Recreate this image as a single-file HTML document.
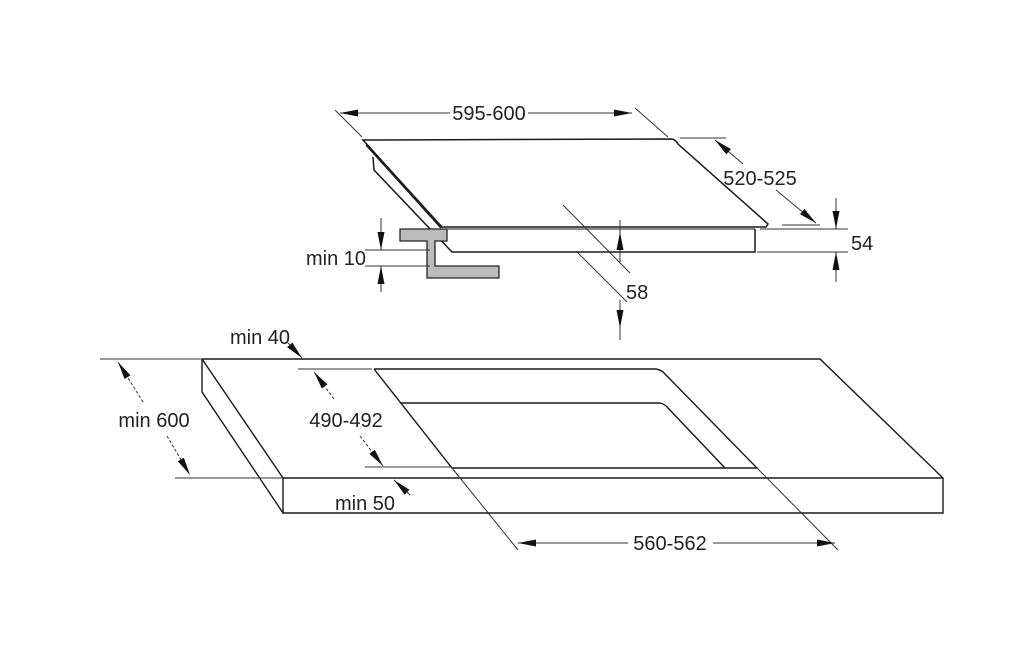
<!DOCTYPE html>
<html><head><meta charset="utf-8"><style>
html,body{margin:0;padding:0;background:#fff;}
svg{display:block;}
text{font-family:"Liberation Sans Narrow","Liberation Sans",sans-serif;font-size:20px;fill:#222;}
</style></head><body>
<svg width="1024" height="660" viewBox="0 0 1024 660" xmlns="http://www.w3.org/2000/svg">
<defs>
<marker id="a" viewBox="0 0 18 7" refX="18" refY="3.5" markerWidth="18" markerHeight="7" markerUnits="userSpaceOnUse" orient="auto">
<path d="M0,0 L18,3.5 L0,7 Z" fill="#111"/>
</marker>
</defs>
<g fill="none" stroke="#1a1a1a" stroke-width="1.5">
<path d="M363,140 L672,139 Q676,140 678,144 L768,224 L766,227 L442,227 Z" fill="#fff"/>
<path d="M366,145 L441,228"/>
<path d="M373,157 L374,170 L452,252 L755,252 L755,229"/>
<path d="M447,229 L755,229" stroke-width="1.1"/>
</g>
<path d="M400,229 L447,229 L447,241 L435,241 L435,266 L499,266 L499,278 L427,278 L427,241 L400,241 Z" fill="#bbb" stroke="#222" stroke-width="1.3"/>
<g fill="none" stroke="#333" stroke-width="1">
<line x1="335" y1="110" x2="362" y2="137"/>
<line x1="635" y1="108" x2="668" y2="137"/>
<line x1="450" y1="113" x2="340" y2="113" marker-end="url(#a)"/>
<line x1="528" y1="113" x2="632" y2="113" marker-end="url(#a)"/>
<line x1="680" y1="138" x2="726" y2="138"/>
<line x1="782" y1="225" x2="820" y2="225"/>
<line x1="743" y1="164" x2="715" y2="140" marker-end="url(#a)"/>
<line x1="776" y1="190" x2="816" y2="223" marker-end="url(#a)"/>
<line x1="760" y1="229" x2="848" y2="229"/>
<line x1="757" y1="252" x2="848" y2="252"/>
<line x1="836" y1="198" x2="836" y2="229" marker-end="url(#a)"/>
<line x1="836" y1="282" x2="836" y2="252" marker-end="url(#a)"/>
<line x1="365" y1="250" x2="430" y2="250"/>
<line x1="365" y1="266" x2="430" y2="266"/>
<line x1="381" y1="218" x2="381" y2="250" marker-end="url(#a)"/>
<line x1="381" y1="292" x2="381" y2="266" marker-end="url(#a)"/>
<line x1="563" y1="205" x2="630" y2="273"/>
<line x1="577" y1="252" x2="627" y2="302"/>
<line x1="620" y1="220" x2="620" y2="262"/>
<line x1="620" y1="262" x2="620" y2="232" marker-end="url(#a)"/>
<line x1="620" y1="300" x2="620" y2="340"/>
<line x1="620" y1="300" x2="620" y2="328" marker-end="url(#a)"/>
</g>
<g fill="none" stroke="#1a1a1a" stroke-width="1.4">
<path d="M202,359 L820,359 L943,478 L943,513 L283,513 L283,478 L943,478"/>
<path d="M202,359 L283,478 M202,359 L202,392 L283,513"/>
<path d="M374,369 L656,369 Q662,370 665,374 L757,468 L452,468 L374,369"/>
<path d="M401,403 L660,403 Q665,404 668,408 L725,468"/>
</g>
<g fill="none" stroke="#333" stroke-width="1">
<line x1="100" y1="359" x2="202" y2="359"/>
<line x1="175" y1="478" x2="283" y2="478"/>
<line x1="143" y1="402" x2="118" y2="362" stroke-dasharray="3,2" marker-end="url(#a)"/>
<line x1="167" y1="436" x2="190" y2="475" stroke-dasharray="3,2" marker-end="url(#a)"/>
<line x1="298" y1="369" x2="372" y2="369"/>
<line x1="365" y1="467" x2="452" y2="467"/>
<line x1="334" y1="399" x2="314" y2="372" stroke-dasharray="3,2" marker-end="url(#a)"/>
<line x1="360" y1="436" x2="383" y2="466" stroke-dasharray="3,2" marker-end="url(#a)"/>
<line x1="288" y1="343" x2="302" y2="358" marker-end="url(#a)"/>
<line x1="410" y1="495" x2="394" y2="480" marker-end="url(#a)"/>
<line x1="452" y1="468" x2="518" y2="550"/>
<line x1="757" y1="468" x2="838" y2="550"/>
<line x1="628" y1="543" x2="518" y2="543" marker-end="url(#a)"/>
<line x1="713" y1="543" x2="835" y2="543" marker-end="url(#a)"/>
</g>
<g>
<text x="489" y="120" text-anchor="middle">595-600</text>
<text x="760" y="185" text-anchor="middle">520-525</text>
<text x="851" y="250">54</text>
<text x="336" y="265" text-anchor="middle">min 10</text>
<text x="626" y="299">58</text>
<text x="260" y="344" text-anchor="middle">min 40</text>
<text x="154" y="427" text-anchor="middle">min 600</text>
<text x="346" y="427" text-anchor="middle">490-492</text>
<text x="365" y="510" text-anchor="middle">min 50</text>
<text x="670" y="550" text-anchor="middle">560-562</text>
</g>
</svg>
</body></html>
